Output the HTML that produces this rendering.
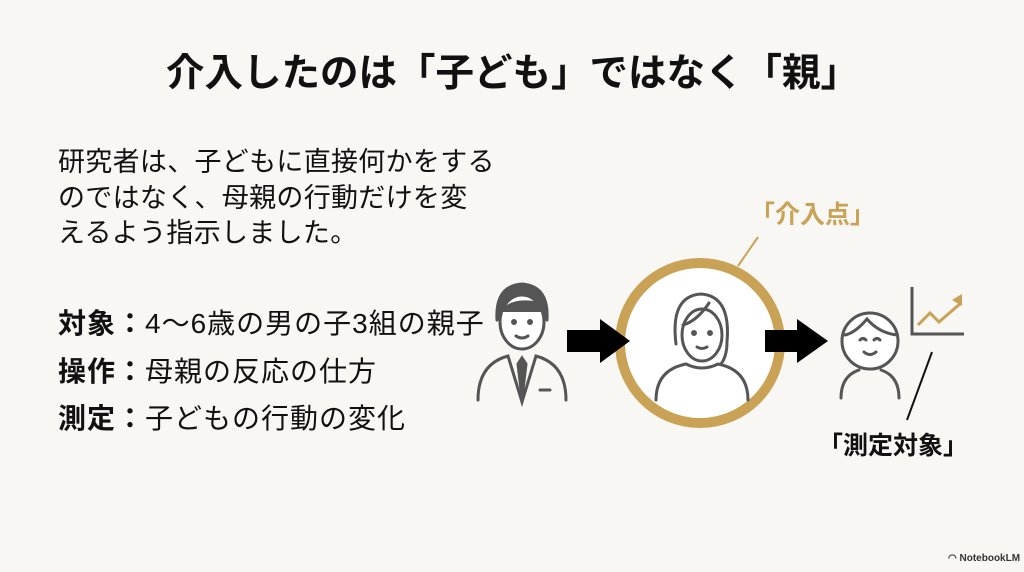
<!DOCTYPE html>
<html><head><meta charset="utf-8"><style>
html,body{margin:0;padding:0}
body{width:1024px;height:572px;background:#f8f7f4;position:relative;overflow:hidden;font-family:"Liberation Sans","Noto Sans CJK JP",sans-serif;color:#111}
.t{position:absolute;white-space:nowrap}
</style></head><body>
<div class="t" style="left:160px;top:50px;font-size:38.5px;font-weight:700;line-height:48px;width:705px;text-align:center">介入したのは「子ども」ではなく「親」</div>
<div class="t" style="left:58px;top:145px;font-size:27px;line-height:35.5px;letter-spacing:0.3px">研究者は、子どもに直接何かをする<br>のではなく、母親の行動だけを変<br>えるよう指示しました。</div>
<div class="t" style="left:58px;top:300px;font-size:28px;line-height:47.5px;letter-spacing:1px"><b>対象：</b>4～6歳の男の子3組の親子<br><b>操作：</b>母親の反応の仕方<br><b>測定：</b>子どもの行動の変化</div>
<div class="t" style="left:750px;top:200px;font-size:25px;font-weight:700;color:#c9a255;line-height:30px">「介入点」</div>
<div class="t" style="left:818px;top:431px;font-size:25px;font-weight:700;line-height:30px">「測定対象」</div>
<div class="t" style="left:948px;top:553px;font-size:10px;font-weight:700;color:#333">◠ NotebookLM</div>
<svg width="1024" height="572" style="position:absolute;left:0;top:0">
<line x1="758" y1="237" x2="738" y2="266" stroke="#c9a255" stroke-width="2"/>
<circle cx="700" cy="343" r="80" fill="#fff" stroke="#c9a255" stroke-width="10"/>
<polygon points="567,330 600,330 600,319 630,341 600,363 600,352 567,352" fill="#000"/>
<polygon points="765,330 797,330 797,319 828,341 797,363 797,352 765,352" fill="#000"/>
<g fill="none" stroke="#555" stroke-width="3" stroke-linecap="round">
<path d="M497,320 q-2,-34 25,-36 q27,2 25,36" fill="#555"/>
<ellipse cx="522" cy="322" rx="22" ry="27" fill="#fff"/>
<path d="M500,312 q10,-16 40,-10 l6,10" fill="#555" stroke="none"/>
<circle cx="514" cy="322" r="1.5" fill="#555"/><circle cx="530" cy="322" r="1.5" fill="#555"/>
<path d="M516,336 q6,4 12,0"/>
<path d="M478,400 q0,-36 30,-44 l14,46 l14,-46 q30,8 30,44"/>
<path d="M522,358 l-4,6 l4,34 l4,-34 z" fill="#555"/>
<path d="M540,390 h10"/>
</g>
<g fill="none" stroke="#555" stroke-width="3" stroke-linecap="round">
<path d="M676,344 q-6,-48 25,-50 q30,2 26,48 q0,14 -6,22"/>
<ellipse cx="702" cy="335" rx="20" ry="26" fill="#fff"/>
<path d="M683,325 q14,-4 26,-22"/>
<circle cx="694" cy="333" r="1.5" fill="#555"/><circle cx="710" cy="333" r="1.5" fill="#555"/>
<path d="M697,347 q5,3 10,0"/>
<path d="M656,400 q0,-30 30,-36 q16,8 32,0 q30,6 30,36"/>
</g>
<g fill="none" stroke="#555" stroke-width="3" stroke-linecap="round">
<circle cx="870" cy="341" r="28" fill="#fff"/>
<path d="M845,335 q10,-2 22,-16 q12,14 30,16"/>
<path d="M860,340 q3,-3 6,0 M874,340 q3,-3 6,0"/>
<path d="M864,352 q6,5 12,0"/>
<path d="M841,398 q0,-22 18,-28 M899,398 q0,-22 -18,-28"/>
</g>
<path d="M912,287 v47 h52" fill="none" stroke="#555" stroke-width="3"/>
<path d="M918,325 l12,-12 l9,9 l22,-19" fill="none" stroke="#c9a255" stroke-width="3"/>
<polygon points="962,294 962,306 952,300" fill="#c9a255"/>
<line x1="932" y1="352" x2="907" y2="420" stroke="#111" stroke-width="2"/>
</svg>
</body></html>
